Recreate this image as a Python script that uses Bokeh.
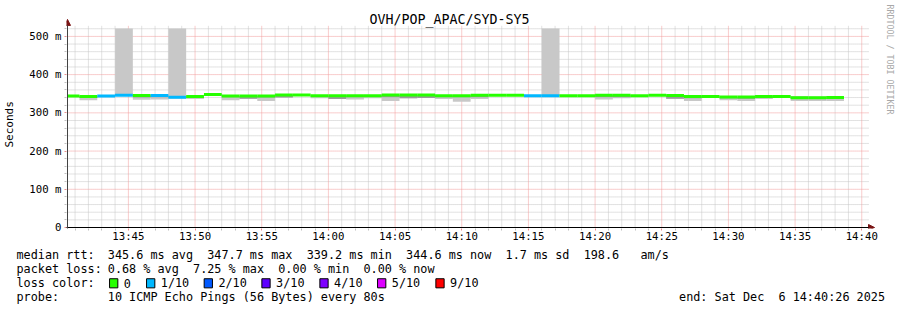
import math
import re
import numpy as np
import pandas as pd
from bokeh.plotting import figure
from bokeh.layouts import column
from bokeh.models import (Range1d, FixedTicker, CustomJSTickFormatter, DatetimeTickFormatter,
                          Label, Arrow, NormalHead, ColumnDataSource)
from bokeh.embed import file_html
from bokeh.resources import INLINE

# ---------------- data ----------------
title_text = "OVH/POP_APAC/SYD-SY5"
first_bin = "2025-12-06 13:40:00"
step_seconds = 80
view_start = "2025-12-06 13:40:26"
view_end = "2025-12-06 14:40:26"

median_ms = [344, 342.5, 344, 346, 345.5, 345.5, 341, 342.5, 347.7, 344,
             344, 344, 347, 347, 345, 344.5, 344.5, 345, 346.5, 346.5,
             346.5, 345, 344.5, 346, 346, 346, 345, 345, 345, 345,
             346, 346, 344.5, 346, 345.5, 343, 343, 341.5, 341.5, 343,
             342.5, 339.5, 339.2, 340]
smoke_min_ms = [342, 333, 343, 344, 334, 335, 338, 336, 346, 333,
                337, 331, 340, 346, 338, 336, 335, 338, 331, 338,
                339, 336, 329, 336, 345, 345, 344, 344, 344, 344,
                335, 338, 343.5, 345, 337, 331, 341, 333, 331, 336,
                340, 331, 331, 331]
smoke_inner_ms = [342, 339, 343, 344, 340, 341, 338, 340, 346, 341,
                  337, 340, 340, 346, 342, 336, 341, 342, 341, 338,
                  339, 341, 341, 341, 345, 345, 344, 344, 344, 344,
                  341, 341, 343.5, 345, 337, 338, 341, 338, 337, 339,
                  340, 336, 336, 336]
# None = a lost ping, whose smoke rrdtool draws up to the top of the graph
smoke_max_ms = [345, 344, 345, None, 347, 347, None, 344, 349, 345,
                345, 345, 348, 348, 346, 346, 346, 346, 348, 348,
                348, 346, 346, 347, 347, 347, 346, None, 346, 346,
                347, 347, 346, 347, 347, 344, 344, 343, 343, 344,
                344, 344, 343, 344]
lost_pings = [0, 0, 1, 1, 0, 1, 1, 0, 0, 0,
              0, 0, 0, 0, 0, 0, 0, 0, 0, 0,
              0, 0, 0, 0, 0, 0, 1, 1, 0, 0,
              0, 0, 0, 0, 0, 0, 0, 0, 0, 0,
              0, 0, 0, 0]

loss_levels = [0, 1, 2, 3, 4, 5, 9]
loss_labels = ["0", "1/10", "2/10", "3/10", "4/10", "5/10", "9/10"]
loss_colors = ["#26ff00", "#00b8ff", "#0059ff", "#5e00ff", "#7e00ff", "#dd00ff", "#ff0000"]

y_major_ms = [0, 100, 200, 300, 400, 500]
y_top_ms = 521
x_major_times = ["13:45", "13:50", "13:55", "14:00", "14:05", "14:10",
                 "14:15", "14:20", "14:25", "14:30", "14:35", "14:40"]

rtt_label = "median rtt:"
rtt_text = "345.6 ms avg  347.7 ms max  339.2 ms min  344.6 ms now  1.7 ms sd  198.6   am/s"
loss_label = "packet loss:"
loss_text = "0.68 % avg  7.25 % max  0.00 % min  0.00 % now"
color_label = "loss color:"
probe_label = "probe:"
probe_text = "10 ICMP Echo Pings (56 Bytes) every 80s"
end_text = "end: Sat Dec  6 14:40:26 2025"
side_text = "RRDTOOL / TOBI OETIKER"
y_axis_title = "Seconds"

# ---------------- layout constants (canvas pixels) ----------------
W, H = 897, 310
H_MAIN = 245
G_LEFT, G_RIGHT, G_TOP, G_BOTTOM = 66, 867, 28, 228   # rrdtool graph area
FRAME_L, FRAME_B = 65, 229                          # bokeh frame of main figure
PPS = (G_RIGHT - G_LEFT) / 3600.0                     # px per second
PPM = (G_BOTTOM - G_TOP) / y_top_ms                   # px per ms
MONO = "DejaVu Sans Mono"

t0 = pd.Timestamp(view_start)


def ms_of(t):
    return pd.Timestamp(t).value / 1e6


def t_at(px):   # time (epoch ms) at canvas x
    return ms_of(t0) + (px - G_LEFT) / PPS * 1000.0


def v_at(py):   # value (ms) at canvas y
    return (G_BOTTOM - py) / PPM


def keep_spaces(s):  # svg collapses runs of spaces
    return re.sub(r" {2,}", lambda m: "\u00a0" * len(m.group()), s)


# ---------------- derived data ----------------
n = len(median_ms)
edges = pd.Timestamp(first_bin) + pd.to_timedelta(np.arange(n + 1) * step_seconds, unit="s")
left = np.maximum(edges[:-1].to_numpy(), t0.to_datetime64())
right = edges[1:].to_numpy()


def loss_color(k):
    idx = 0
    for i, lv in enumerate(loss_levels):
        if k >= lv:
            idx = i
    return loss_colors[idx]


src = ColumnDataSource(dict(
    left=left, right=right,
    med=median_ms, smin=smoke_min_ms, sinner=smoke_inner_ms,
    smax=[y_top_ms if v is None else v for v in smoke_max_ms],
    color=[loss_color(k) for k in lost_pings],
))

# ---------------- main figure ----------------
p = figure(width=W, height=H_MAIN, output_backend="svg", toolbar_location=None,
           x_axis_type="datetime",
           x_range=Range1d(t_at(FRAME_L), t_at(W)),
           y_range=Range1d(v_at(FRAME_B), v_at(0)),
           min_border_left=FRAME_L, min_border_right=0,
           min_border_top=0, min_border_bottom=H_MAIN - FRAME_B)
p.frame_align = False
p.outline_line_color = None
p.background_fill_color = "white"
p.border_fill_color = "white"
p.xgrid.visible = False
p.ygrid.visible = False

day = first_bin.split(" ")[0]
x_major = [ms_of(f"{day} {t}") for t in x_major_times]
x_minor = [ms_of(t) for t in pd.date_range(f"{day} 13:41", f"{day} 14:40", freq="1min")
           if ms_of(t) not in x_major]
y_minor = [v for v in range(20, y_top_ms, 20) if v not in y_major_ms]

# grid (rrdtool style dotted), limited to the graph area
gx0, gx1 = ms_of(t0), t_at(G_RIGHT + 1)
gtop = v_at(G_TOP - 3)
p.segment(x0=gx0, x1=gx1, y0=y_minor, y1=y_minor, line_color="#c4c4c4", line_dash="1 1", line_width=1)
p.segment(x0=x_minor, x1=x_minor, y0=0, y1=gtop, line_color="#c4c4c4", line_dash="1 1", line_width=1)
p.segment(x0=gx0, x1=gx1, y0=y_major_ms[1:], y1=y_major_ms[1:], line_color="#f29a9a",
          line_dash="1 1", line_width=1)
p.segment(x0=x_major, x1=x_major, y0=0, y1=gtop, line_color="#f29a9a", line_dash="1 1", line_width=1)

# smoke
p.quad(left="left", right="right", bottom="smin", top="smax", source=src,
       fill_color="#c8c8c8", line_color=None)
p.quad(left="left", right="right", bottom="sinner", top="med", source=src,
       fill_color="#9a9a9a", line_color=None)
# median coloured by loss
p.segment(x0="left", x1="right", y0="med", y1="med", source=src,
          line_color="color", line_width=3)

# axes
p.xaxis.ticker = FixedTicker(ticks=x_major, minor_ticks=x_minor)
fmt = "%H:%M"
p.xaxis.formatter = DatetimeTickFormatter(milliseconds=fmt, seconds=fmt, minsec=fmt, minutes=fmt,
                                          hourmin=fmt, hours=fmt, days=fmt)
p.yaxis.ticker = FixedTicker(ticks=y_major_ms, minor_ticks=y_minor)
p.yaxis.formatter = CustomJSTickFormatter(code="return tick == 0 ? '0' : tick.toFixed(0) + ' m';")
for ax in (p.xaxis[0], p.yaxis[0]):
    ax.axis_line_color = None
    ax.major_label_text_font = MONO
    ax.major_label_text_font_size = "10.7px"
    ax.major_label_text_color = "#000000"
    ax.major_tick_in = 0
    ax.major_tick_out = 2
    ax.minor_tick_in = 0
    ax.minor_tick_out = 2
    ax.major_tick_line_color = "#e89090"
    ax.minor_tick_line_color = "#c0c0c0"
p.xaxis.major_label_standoff = -1
p.yaxis.major_label_standoff = 3
p.yaxis.axis_label = y_axis_title + "\u00a0\u00a0\u00a0"
p.yaxis.axis_label_text_font = MONO
p.yaxis.axis_label_text_font_size = "11px"
p.yaxis.axis_label_text_font_style = "normal"
p.yaxis.axis_label_text_color = "#000000"
p.yaxis.axis_label_standoff = 10

# axis lines with arrow heads
head = dict(size=6, fill_color="#7a1414", line_color="#7a1414")
p.add_layout(Arrow(x_start=t_at(62), y_start=0, x_end=t_at(874), y_end=0,
                   line_color="#000000", line_width=1, end=NormalHead(**head)))
p.add_layout(Arrow(x_start=ms_of(t0), y_start=v_at(231), x_end=ms_of(t0), y_end=v_at(19),
                   line_color="#404040", line_width=1, end=NormalHead(**head)))


def label(fig, text, sx, sy, size="11.8px", align="left", color="#000000", angle=0.0):
    fig.add_layout(Label(x=sx, y=sy, x_units="screen", y_units="screen", text=keep_spaces(text),
                         text_font=MONO, text_font_size=size, text_align=align,
                         text_baseline="middle", text_color=color, angle=angle))


label(p, title_text, 448 - FRAME_L, FRAME_B - 19.5, size="13.3px", align="center")
label(p, side_text, 888 - FRAME_L, FRAME_B - 5, size="8.3px", color="#a8a8a8", angle=-math.pi / 2)

# ---------------- legend panel ----------------
H_LEG = H - H_MAIN
q = figure(width=W, height=H_LEG, output_backend="svg", toolbar_location=None,
           x_range=Range1d(0, W), y_range=Range1d(0, H_LEG),
           x_axis_location=None, y_axis_location=None,
           min_border_left=0, min_border_right=0, min_border_top=0, min_border_bottom=0)
q.frame_align = False
q.outline_line_color = None
q.xgrid.visible = False
q.ygrid.visible = False
q.background_fill_color = "white"
q.border_fill_color = "white"


def leg(text, cx, cy, align="left"):
    label(q, text, cx, H - cy, align=align)


rows_y = [254.3, 268.5, 282.5, 296.5]
leg(rtt_label, 16, rows_y[0])
leg(rtt_text, 107.3, rows_y[0])
leg(loss_label, 16, rows_y[1])
leg(loss_text, 107.3, rows_y[1])
leg(color_label, 16, rows_y[2])
leg(probe_label, 16, rows_y[3])
leg(probe_text, 107.3, rows_y[3])
leg(end_text, 884.5, rows_y[3], align="right")

box_x = [108.7, 145.7, 203.3, 261.0, 319.0, 376.7, 435.0]
for bx, lab, col in zip(box_x, loss_labels, loss_colors):
    q.add_layout(Label(x=bx + 4.5, y=H - rows_y[2] - 0.3, x_units="screen", y_units="screen",
                       text=" ", text_font_size="1px", text_align="center",
                       text_baseline="middle", padding=4,
                       background_fill_color=col, border_line_color="#000000",
                       border_line_width=1))
    leg(lab, bx + 14.6, rows_y[2])

layout = column(p, q, spacing=0)
open("out.html", "w").write(file_html(layout, INLINE))
